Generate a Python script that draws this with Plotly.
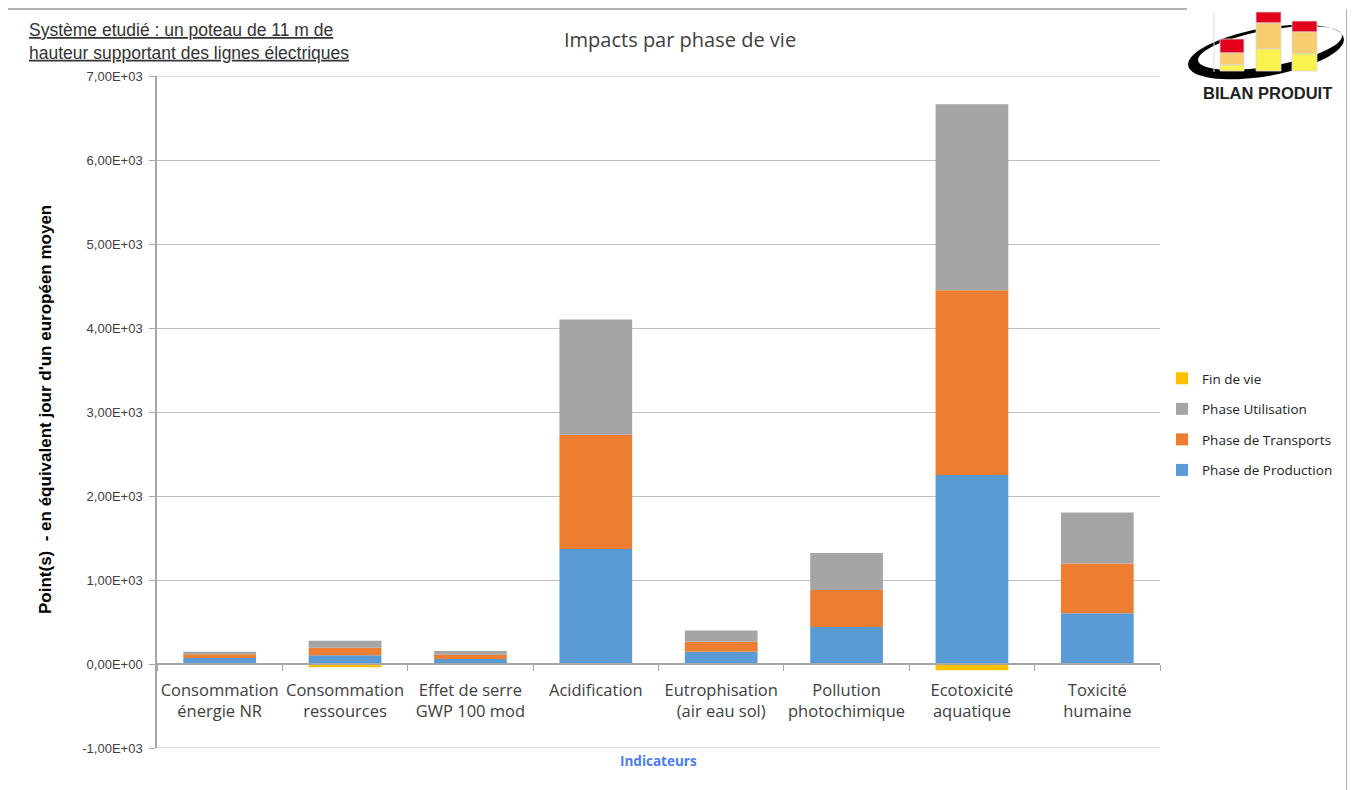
import numpy as np
import plotly.graph_objects as go

categories = ["Consommation<br>énergie NR", "Consommation<br>ressources", "Effet de serre<br>GWP 100 mod",
              "Acidification", "Eutrophisation<br>(air eau sol)", "Pollution<br>photochimique",
              "Ecotoxicité<br>aquatique", "Toxicité<br>humaine"]
production = [70, 103, 60, 1370, 145, 440, 2250, 605]
transports = [45, 90, 50, 1360, 120, 440, 2200, 590]
utilisation = [30, 83, 45, 1370, 135, 440, 2215, 610]
fin_de_vie = [0, -40, 0, 0, 0, 0, -75, 0]
series_names = ["Phase de Production", "Phase de Transports", "Phase Utilisation", "Fin de vie"]
tick_vals = [-1000, 0, 1000, 2000, 3000, 4000, 5000, 6000, 7000]
tick_text = ["-1,00E+03", "0,00E+00", "1,00E+03", "2,00E+03", "3,00E+03", "4,00E+03", "5,00E+03", "6,00E+03", "7,00E+03"]
y_min, y_max = -1000, 7000

colors = ["#5B9BD5", "#ED7D31", "#A5A5A5", "#FFC000"]

OFF = 8  # page body margin
W, H = 1355 - OFF, 790 - OFF
L, R, T, B = 157, 1160, 76, 748  # plot area in page pixels


def px(x):
    return (x - L) / (R - L)


def py(y):
    return (B - y) / (B - T)


fig = go.Figure()
for i, (name, vals, c) in enumerate(zip(series_names, [production, transports, utilisation, fin_de_vie], colors)):
    fig.add_trace(go.Bar(x=categories, y=vals, name=name, marker=dict(color=c, line=dict(width=0)),
                         legendgroup=name, legendrank=100 - i))

shapes = []
# gridlines at range ends
for yv in (y_min, y_max):
    shapes.append(dict(type="line", xref="paper", yref="y", x0=0, x1=1, y0=yv, y1=yv,
                       line=dict(color="#BFBFBF", width=1), layer="below"))
# outer border
border = "#9A9A9A"
shapes.append(dict(type="line", xref="paper", yref="paper", x0=px(7), x1=px(1187), y0=py(9), y1=py(9),
                   line=dict(color=border, width=1.5)))
shapes.append(dict(type="line", xref="paper", yref="paper", x0=px(7), x1=px(7), y0=py(9), y1=py(800),
                   line=dict(color=border, width=1.5)))
shapes.append(dict(type="line", xref="paper", yref="paper", x0=px(1347), x1=px(1347), y0=py(9), y1=py(800),
                   line=dict(color=border, width=1.5)))

# logo: swoosh ring
t = np.linspace(0, 2 * np.pi, 80)
ang = np.deg2rad(-10)


def ell(cx, cy, rx, ry, reverse=False):
    tt = t[::-1] if reverse else t
    xs = rx * np.cos(tt)
    ys = ry * np.sin(tt)
    X = cx + xs * np.cos(ang) - ys * np.sin(ang)
    Y = cy + xs * np.sin(ang) + ys * np.cos(ang)
    return X, Y


ox, oy = ell(1266, 52, 79, 24)
ix, iy = ell(1270, 48, 73, 18, reverse=True)
path = "M " + " L ".join(f"{px(a):.5f},{py(b):.5f}" for a, b in zip(ox, oy)) + " Z "
path += "M " + " L ".join(f"{px(a):.5f},{py(b):.5f}" for a, b in zip(ix, iy)) + " Z"
shapes.append(dict(type="path", xref="paper", yref="paper", path=path, fillcolor="black",
                   line=dict(width=0)))

# logo bars (x0, x1, red top, orange top, yellow top, bottom)
logo_bars = [(1220, 1244, 39, 53, 65, 71), (1256, 1281, 12, 23, 49, 71), (1292, 1317, 21, 32, 54, 71)]
for x0, x1, r0, o0, y0, b0 in logo_bars:
    for top, bot, c in [(r0, o0, "#E3001B"), (o0, y0, "#F8CD70"), (y0, b0, "#FAF24E")]:
        shapes.append(dict(type="rect", xref="paper", yref="paper", x0=px(x0), x1=px(x1), y0=py(bot), y1=py(top),
                           fillcolor=c, line=dict(color="#D8D8D8", width=0.8)))
shapes.append(dict(type="line", xref="paper", yref="paper", x0=px(1214), x1=px(1214), y0=py(72), y1=py(12),
                   line=dict(color="#DDDDDD", width=1)))

annotations = [
    dict(text="Impacts par phase de vie", xref="paper", yref="paper", x=px(680), y=py(40), showarrow=False,
         font=dict(family="Open Sans", size=20, color="#404040"), xanchor="center", yanchor="middle"),
    dict(text="<u>Système etudié : un poteau de 11 m de</u><br><u>hauteur supportant des lignes électriques</u>",
         xref="paper", yref="paper", x=px(27), y=py(41), showarrow=False, align="left",
         font=dict(family="Liberation Sans", size=17.5, color="#333333"), xanchor="left", yanchor="middle"),
    dict(text="<b>Point(s)  - en équivalent jour d'un européen moyen</b>", xref="paper", yref="paper",
         x=px(45), y=py(410), textangle=-90, showarrow=False,
         font=dict(family="Liberation Sans Narrow, Liberation Sans", size=17, color="#000000"),
         xanchor="center", yanchor="middle"),
    dict(text="<b>Indicateurs</b>", xref="paper", yref="paper", x=px(658), y=py(761), showarrow=False,
         font=dict(family="Open Sans", size=13.5, color="#4A7CF2"), xanchor="center", yanchor="middle"),
    dict(text="<b>BILAN PRODUIT</b>", xref="paper", yref="paper", x=px(1267), y=py(93), showarrow=False,
         font=dict(family="Liberation Sans", size=16.5, color="#222222"), xanchor="center", yanchor="middle"),
]

fig.update_layout(
    width=W, height=H,
    margin=dict(l=L - OFF, r=W - (R - OFF), t=T - OFF, b=H - (B - OFF), pad=0),
    paper_bgcolor="white", plot_bgcolor="white",
    barmode="relative", bargap=0.42,
    showlegend=True,
    legend=dict(traceorder="grouped", x=px(1162), y=py(363), xanchor="left", yanchor="top",
                font=dict(family="Open Sans", size=13.5, color="#222222"), tracegroupgap=10,
                itemwidth=30, bgcolor="rgba(0,0,0,0)"),
    xaxis=dict(type="category", anchor="free", position=(0 - y_min) / (y_max - y_min), showline=True,
               linecolor="#A6A6A6", linewidth=1.5, ticks="outside", tickson="boundaries", ticklen=6,
               tickcolor="#A6A6A6", showgrid=False, ticklabelstandoff=11, tickangle=0,
               tickfont=dict(family="Open Sans", size=16.5, color="#404040")),
    yaxis=dict(range=[y_min, y_max], tickvals=tick_vals, ticktext=tick_text, showgrid=True, gridcolor="#BFBFBF",
               gridwidth=1, showline=True, linecolor="#A6A6A6", linewidth=1.5, ticks="outside", ticklen=6,
               tickcolor="#A6A6A6", zeroline=False, ticklabelstandoff=4,
               tickfont=dict(family="Liberation Sans", size=13, color="#404040")),
    shapes=shapes, annotations=annotations,
)

fig.write_html("out.html")
